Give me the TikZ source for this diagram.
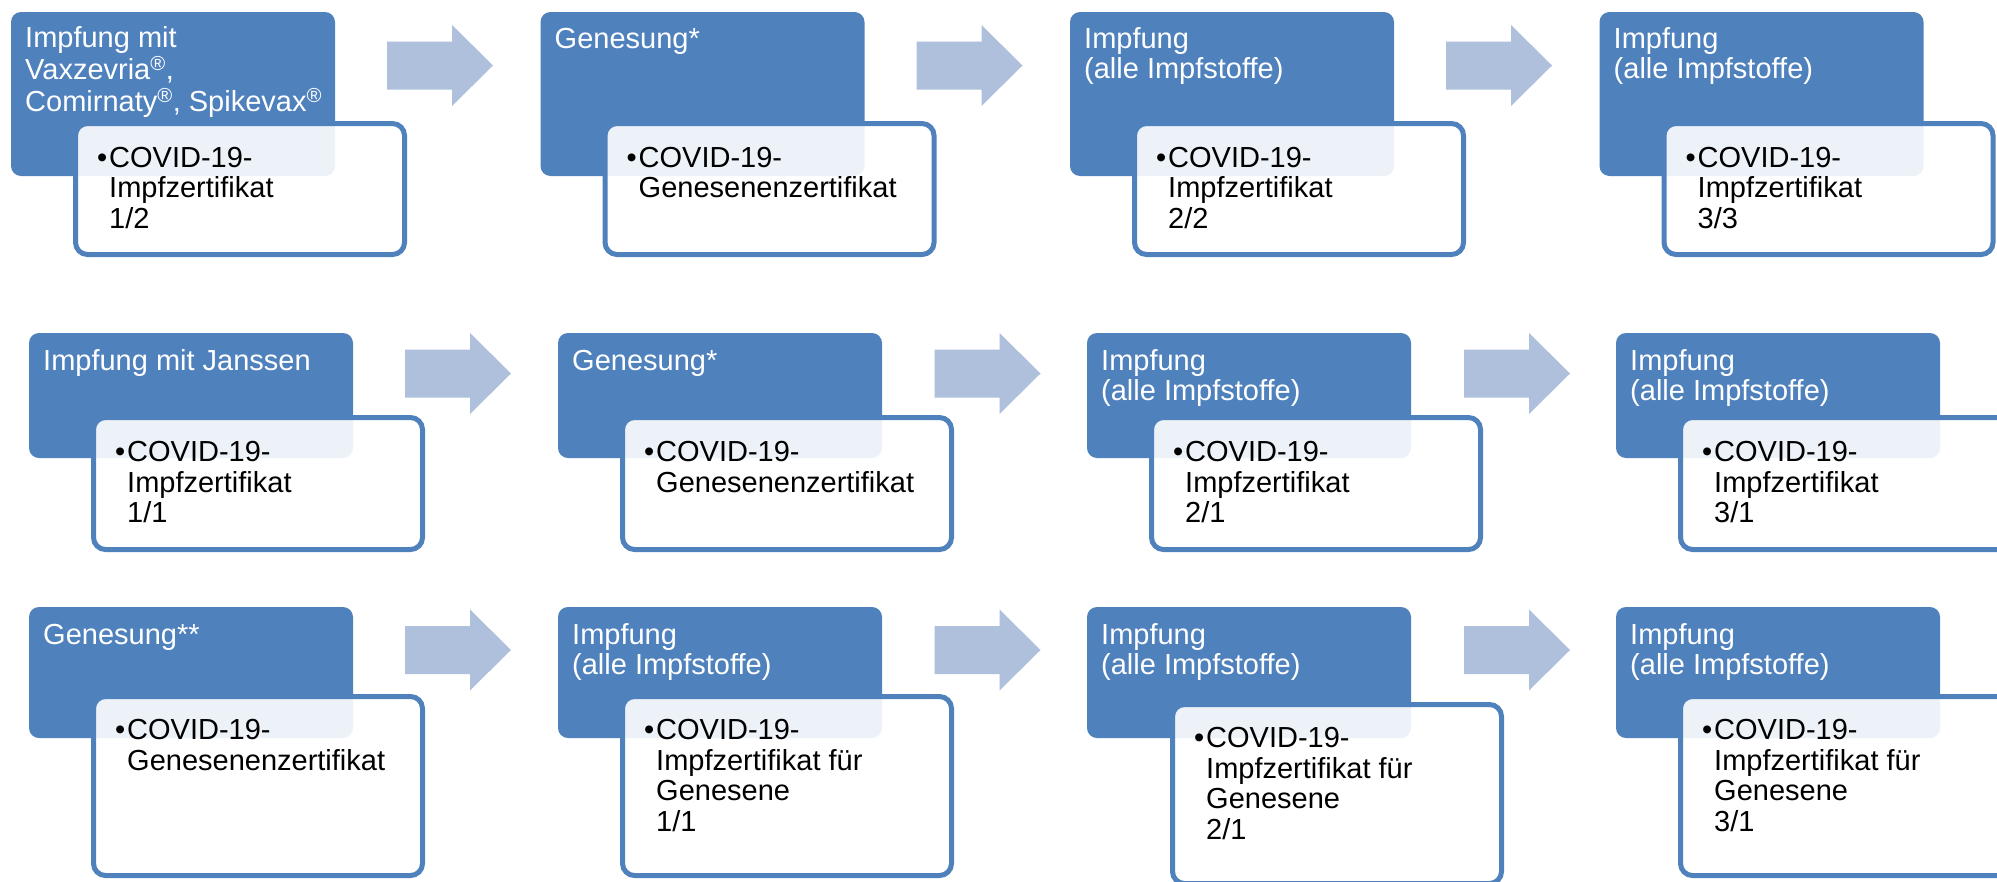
\documentclass[tikz,border=0pt]{standalone}
\usepackage{fontspec}
\setmainfont{Liberation Sans}
\usetikzlibrary{calc}
\definecolor{accblue}{HTML}{4F81BD}
\definecolor{arrowblue}{HTML}{AFC0DD}
\newcommand\bul[1]{\makebox[12pt][l]{•}\begin{tabular}[t]{@{}l@{}}#1\end{tabular}}
\newcommand\mlines[1]{\begin{tabular}[t]{@{}l@{}}#1\end{tabular}}
\newcommand\barrow[3]{\coordinate (#1) at (#2,#3);
  \fill[arrowfill] (#1) ++(0,-24) -- ++(65,0) -- ++(0,-16.5) -- ++(41,40.5) -- ++(-41,40.5) -- ++(0,-16.5) -- ++(-65,0) -- cycle;}
\tikzset{
  bluebox/.style={fill=accblue, rounded corners=10pt, inner sep=0pt, outer sep=0pt, anchor=north west, minimum width=324pt},
  whitebox/.style={draw=accblue, line width=5pt, fill=white, fill opacity=0.9, draw opacity=1, rounded corners=12pt, inner sep=0pt, outer sep=2.5pt, anchor=north west, minimum width=329pt},
  bluetext/.style={text=white, font=\fontsize{29}{30}\selectfont, inner sep=0pt, anchor=base west},
  whitetext/.style={text=black, font=\fontsize{29}{30.5}\selectfont, inner sep=0pt, anchor=base west},
  arrowfill/.style={fill=arrowblue}
}
\begin{document}
\begin{tikzpicture}[x=1pt,y=-1pt]
\useasboundingbox (0,0) rectangle (1997,881);
\clip (0,0) rectangle (1997,881);
\fill[white] (0,0) rectangle (1997,881);

% ---------- Row 1 ----------
\node[bluebox, minimum height=164pt] (b11) at (11,12) {};
\node[bluebox, minimum height=164pt] (b12) at (540.5,12) {};
\node[bluebox, minimum height=164pt] (b13) at (1070,12) {};
\node[bluebox, minimum height=164pt] (b14) at (1599.5,12) {};
\node[whitebox, minimum height=131pt] (w11) at (73,121) {};
\node[whitebox, minimum height=131pt] (w12) at (602.5,121) {};
\node[whitebox, minimum height=131pt] (w13) at (1132,121) {};
\node[whitebox, minimum height=131pt] (w14) at (1661.5,121) {};
\node[bluetext] (t11) at ($(b11.north west)+(14,35.5)$) {\mlines{Impfung mit\\Vaxzevria\textsuperscript{®},\\Comirnaty\textsuperscript{®}, Spikevax\textsuperscript{®}}};
\node[bluetext] (t12) at ($(b12.north west)+(14,36.5)$) {\mlines{Genesung*}};
\node[bluetext] (t13) at ($(b13.north west)+(14,36.5)$) {\mlines{Impfung\\(alle Impfstoffe)}};
\node[bluetext] (t14) at ($(b14.north west)+(14,36.5)$) {\mlines{Impfung\\(alle Impfstoffe)}};
\node[whitetext] (s11) at ($(w11.north west)+(24,46)$) {\bul{COVID-19-\\Impfzertifikat\\1/2}};
\node[whitetext] (s12) at ($(w12.north west)+(24,46)$) {\bul{COVID-19-\\Genesenenzertifikat}};
\node[whitetext] (s13) at ($(w13.north west)+(24,46)$) {\bul{COVID-19-\\Impfzertifikat\\2/2}};
\node[whitetext] (s14) at ($(w14.north west)+(24,46)$) {\bul{COVID-19-\\Impfzertifikat\\3/3}};
\barrow{a11}{387}{65.5}
\barrow{a12}{916.5}{65.5}
\barrow{a13}{1446}{65.5}

% ---------- Row 2 ----------
\node[bluebox, minimum height=125pt] (b21) at (29,333) {};
\node[bluebox, minimum height=125pt] (b22) at (558,333) {};
\node[bluebox, minimum height=125pt] (b23) at (1087,333) {};
\node[bluebox, minimum height=125pt] (b24) at (1616,333) {};
\node[whitebox, minimum height=132pt] (w21) at (91,415) {};
\node[whitebox, minimum height=132pt] (w22) at (620,415) {};
\node[whitebox, minimum height=132pt] (w23) at (1149,415) {};
\node[whitebox, minimum height=132pt] (w24) at (1678,415) {};
\node[bluetext] (t21) at ($(b21.north west)+(14,37.5)$) {\mlines{Impfung mit Janssen}};
\node[bluetext] (t22) at ($(b22.north west)+(14,37.5)$) {\mlines{Genesung*}};
\node[bluetext] (t23) at ($(b23.north west)+(14,37.5)$) {\mlines{Impfung\\(alle Impfstoffe)}};
\node[bluetext] (t24) at ($(b24.north west)+(14,37.5)$) {\mlines{Impfung\\(alle Impfstoffe)}};
\node[whitetext] (s21) at ($(w21.north west)+(24,46.5)$) {\bul{COVID-19-\\Impfzertifikat\\1/1}};
\node[whitetext] (s22) at ($(w22.north west)+(24,46.5)$) {\bul{COVID-19-\\Genesenenzertifikat}};
\node[whitetext] (s23) at ($(w23.north west)+(24,46.5)$) {\bul{COVID-19-\\Impfzertifikat\\2/1}};
\node[whitetext] (s24) at ($(w24.north west)+(24,46.5)$) {\bul{COVID-19-\\Impfzertifikat\\3/1}};
\barrow{a21}{405}{373.5}
\barrow{a22}{934.5}{373.5}
\barrow{a23}{1464}{373.5}

% ---------- Row 3 ----------
\node[bluebox, minimum height=131pt] (b31) at (29,607) {};
\node[bluebox, minimum height=131pt] (b32) at (558,607) {};
\node[bluebox, minimum height=131pt] (b33) at (1087,607) {};
\node[bluebox, minimum height=131pt] (b34) at (1616,607) {};
\node[whitebox, minimum height=179pt] (w31) at (91,694) {};
\node[whitebox, minimum height=179pt] (w32) at (620,694) {};
\node[whitebox, minimum height=179pt] (w33) at (1170,702) {};
\node[whitebox, minimum height=179pt] (w34) at (1678,694) {};
\node[bluetext] (t31) at ($(b31.north west)+(14,37.5)$) {\mlines{Genesung**}};
\node[bluetext] (t32) at ($(b32.north west)+(14,37.5)$) {\mlines{Impfung\\(alle Impfstoffe)}};
\node[bluetext] (t33) at ($(b33.north west)+(14,37.5)$) {\mlines{Impfung\\(alle Impfstoffe)}};
\node[bluetext] (t34) at ($(b34.north west)+(14,37.5)$) {\mlines{Impfung\\(alle Impfstoffe)}};
\node[whitetext] (s31) at ($(w31.north west)+(24,45.5)$) {\bul{COVID-19-\\Genesenenzertifikat}};
\node[whitetext] (s32) at ($(w32.north west)+(24,45.5)$) {\bul{COVID-19-\\Impfzertifikat für\\Genesene\\1/1}};
\node[whitetext] (s33) at ($(w33.north west)+(24,45.5)$) {\bul{COVID-19-\\Impfzertifikat für\\Genesene\\2/1}};
\node[whitetext] (s34) at ($(w34.north west)+(24,45.5)$) {\bul{COVID-19-\\Impfzertifikat für\\Genesene\\3/1}};
\barrow{a31}{405}{650}
\barrow{a32}{934.5}{650}
\barrow{a33}{1464}{650}
\end{tikzpicture}
\end{document}
